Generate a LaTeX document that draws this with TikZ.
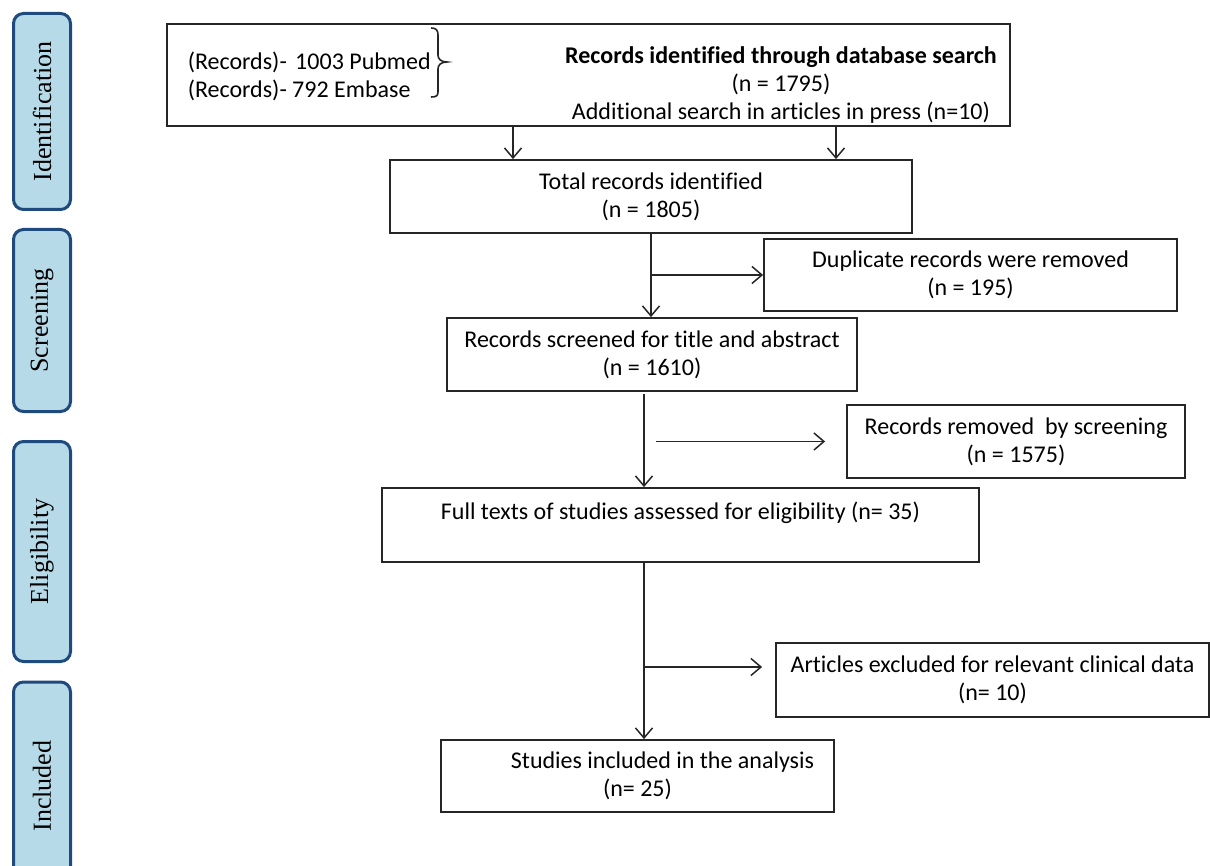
\documentclass[tikz,border=0pt]{standalone}
\usepackage{fontspec}
\setmainfont{Carlito}[Ligatures=NoCommon]
\newfontfamily\phasefont{Liberation Serif}
\usepackage{tikz}
\usetikzlibrary{arrows.meta,positioning,calc}
\definecolor{phasefill}{HTML}{B7DAE8}
\definecolor{phaseline}{HTML}{1F4A7E}
\definecolor{boxline}{HTML}{262626}
\tikzset{every picture/.style={line width=0.75pt},
  phase/.style={draw=phaseline,line width=1.5pt,fill=phasefill,rounded corners=5pt,
    rotate=90,minimum height=28.5pt,inner sep=0pt,font=\phasefont\fontsize{13}{15}\selectfont},
  box/.style={draw=boxline,line width=0.9pt,inner sep=0pt,align=center,
    font=\fontsize{12}{14}\selectfont},
  txt/.style={inner sep=0pt,font=\fontsize{12}{14}\selectfont},
  arr/.style={draw=boxline,-{Straight Barb[length=5pt,width=8.5pt]}}}

\begin{document}
\begin{tikzpicture}[x=0.5pt,y=-0.5pt]
    \useasboundingbox (0,0) rectangle (1210,866);
    \clip (0,0) rectangle (1210,866);

    % Phase labels
    \node[phase,minimum width=98pt] (ident) at (42,111.5) {Identification};
    \node[phase,minimum width=91pt] (scr) at (42,320.5) {Screening};
    \node[phase,minimum width=110pt] (elg) at (42,551.5) {Eligibility};
    \node[phase,minimum width=104pt] (inc) at (42,786) {Included};

    % Database search
    \node[box,minimum width=421.5pt,minimum height=51pt] (db) at (588.5,75) {};
    \node[txt,align=left,anchor=west] (srcs) at (187,76.5) {(Records)-\kern1.5pt\ 1003 Pubmed\\(Records)- 792 Embase};
    \node[txt,align=center] (dbtext) at (781,85) {\textbf{Records identified through database search}\\(n = 1795)\\Additional search in articles in press (n=10)};
    \draw[boxline,line width=0.8pt] (431,28) .. controls (436,28) and (438,30) .. (438,35) -- (438,55)
        .. controls (438,59) and (441,62) .. (447,62) .. controls (441,62) and (438,65) .. (438,69)
        -- (438,92) .. controls (438,96) and (436,97) .. (431,97);

    % Flow boxes
    \node[box,minimum width=261pt,minimum height=36.5pt] (total) at (651,196.5) {Total records identified\\(n = 1805)};
    \node[box,minimum width=206.5pt,minimum height=36pt] (dup) at (970.5,275) {Duplicate records were removed\\(n = 195)};
    \node[box,minimum width=205pt,minimum height=36.5pt] (screen) at (652,354.5) {Records screened for title and abstract\\(n = 1610)};
    \node[box,minimum width=169pt,minimum height=36.5pt] (removed) at (1016,441.5) {Records removed\ \ by screening\\(n = 1575)};
    \node[box,minimum width=298.5pt,minimum height=37pt] (elig) at (680.5,525) {Full texts of studies assessed for eligibility (n= 35)\\ \mbox{}};
    \node[box,minimum width=216.5pt,minimum height=37pt] (excl) at (992.5,680) {Articles excluded for relevant clinical data\\(n= 10)};
    \node[box,minimum width=196.5pt,minimum height=36pt] (incl) at (637.5,776) {\hspace*{25pt}Studies included in the analysis\\(n= 25)};

    % Arrows
    \coordinate (t1) at ([xshift=-69pt]total.north);
    \coordinate (t2) at ([xshift=92.5pt]total.north);
    \draw[arr] (t1 |- db.south) -- (t1);
    \draw[arr] (t2 |- db.south) -- (t2);
    \draw[arr] (total.south) -- (total.south |- screen.north);
    \draw[arr] (total.south |- dup.west) -- (dup.west);

    \coordinate (s1) at ([xshift=-4pt,yshift=-1pt]screen.south);
    \coordinate (r1) at ([xshift=6pt]s1);
    \coordinate (r2) at ([xshift=-10.5pt]removed.west);
    \draw[arr] (s1) -- (s1 |- elig.north);
    \draw[arr] (r1 |- r2) -- (r2);

    \coordinate (x1) at ([xshift=-6.5pt,yshift=6.5pt]excl.west);
    \draw[arr] (s1 |- elig.south) -- (s1 |- incl.north);
    \draw[arr] (s1 |- x1) -- (x1);
\end{tikzpicture}
\end{document}
